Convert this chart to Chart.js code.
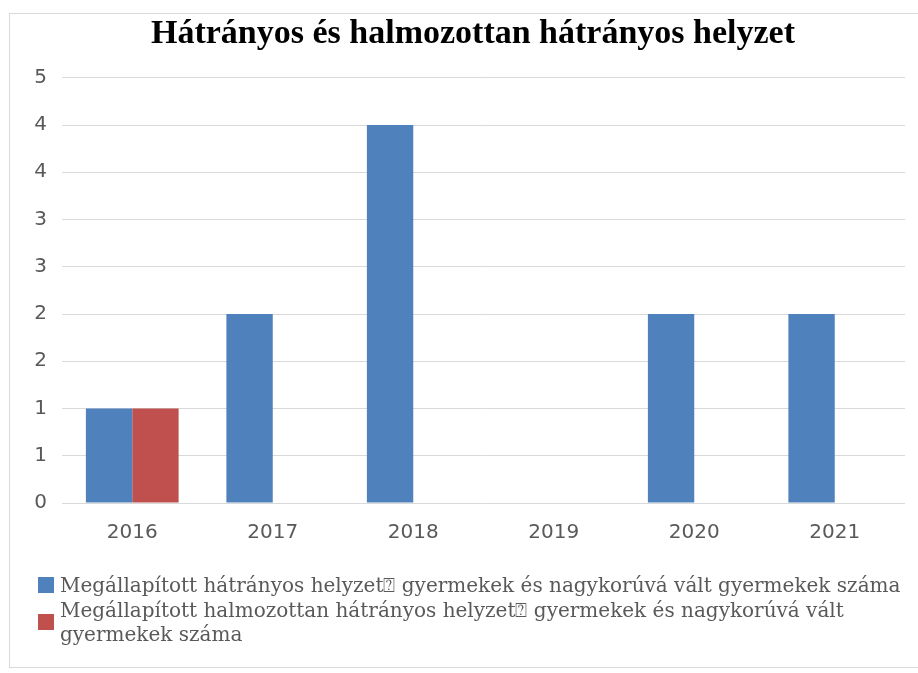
<!DOCTYPE html>
<html>
<head>
<meta charset="utf-8">
<script src="https://cdn.jsdelivr.net/npm/chart.js@4"></script>
<style>
  html, body { margin: 0; padding: 0; background: #fff; }
  #wrap { position: relative; width: 918px; height: 673px; overflow: hidden; }
  #frame { position: absolute; left: 9px; top: 13px; width: 920px; height: 655px; border: 1px solid #d9d9d9; box-sizing: border-box; }
  canvas { position: absolute; left: 0; top: 0; }
  #legend { position: absolute; left: 38px; top: 573px; width: 870px; font-family: 'DejaVu Serif', serif; font-size: 20px; line-height: 24.5px; color: #595959; }
  .item { display: flex; align-items: center; }
  .box { flex: 0 0 16px; height: 16px; margin-right: 6px; }
</style>
</head>
<body>
<div id="wrap">
  <div id="frame"></div>
  <canvas id="myChart" width="918" height="673"></canvas>
  <div id="legend"></div>
</div>
<script>
const years = ['2016', '2017', '2018', '2019', '2020', '2021'];
const hatranyos = [1, 2, 4, 0, 2, 2];
const halmozottan = [1, 0, 0, 0, 0, 0];
const seriesNames = [
    'Megállapított hátrányos helyzet\u2370 gyermekek és nagykorúvá vált gyermekek száma',
    'Megállapított halmozottan hátrányos helyzet\u2370 gyermekek és nagykorúvá vált gyermekek száma'
];
const colors = ['#4f81bd', '#c0504d'];

const chart = new Chart(document.getElementById('myChart'), {
    type: 'bar',
    data: {
        labels: years,
        datasets: [{
            label: seriesNames[0],
            data: hatranyos,
            backgroundColor: colors[0]
        }, {
            label: seriesNames[1],
            data: halmozottan,
            backgroundColor: colors[1]
        }]
    },
    options: {
        responsive: false,
        animation: false,
        layout: { padding: { left: 28, right: 0, top: 14, bottom: 120 } },
        datasets: { bar: { barPercentage: 1, categoryPercentage: 0.66 } },
        plugins: {
            legend: { display: false },
            tooltip: { enabled: false },
            title: {
                display: true,
                text: 'Hátrányos és halmozottan hátrányos helyzet',
                color: '#000',
                font: { family: "'Liberation Serif', serif", size: 34, weight: 'bold' },
                padding: { top: 0, bottom: 23 }
            }
        },
        scales: {
            x: {
                grid: { display: false },
                border: { display: false },
                ticks: { color: '#595959', font: { family: "'DejaVu Sans', sans-serif", size: 20 }, padding: 10 },
                afterFit: s => { s.height = 50; }
            },
            y: {
                min: 0,
                max: 4.5,
                grid: { color: '#d9d9d9', drawTicks: false },
                border: { display: false },
                ticks: {
                    stepSize: 0.5,
                    color: '#595959',
                    font: { family: "'DejaVu Sans', sans-serif", size: 20 },
                    padding: 15,
                    callback: v => Math.round(v)
                },
                afterFit: s => { s.width = 34; }
            },
            // empty right-hand strip, keeps the plot area off the right edge
            y2: {
                position: 'right',
                min: 0,
                max: 1,
                grid: { display: false },
                border: { display: false },
                ticks: { display: false },
                afterFit: s => { s.width = 13; }
            }
        }
    }
});

document.getElementById('legend').innerHTML = chart.data.datasets.map(d =>
    '<div class="item"><span class="box" style="background:' + d.backgroundColor + '"></span><span>' + d.label + '</span></div>'
).join('');
</script>
</body>
</html>
